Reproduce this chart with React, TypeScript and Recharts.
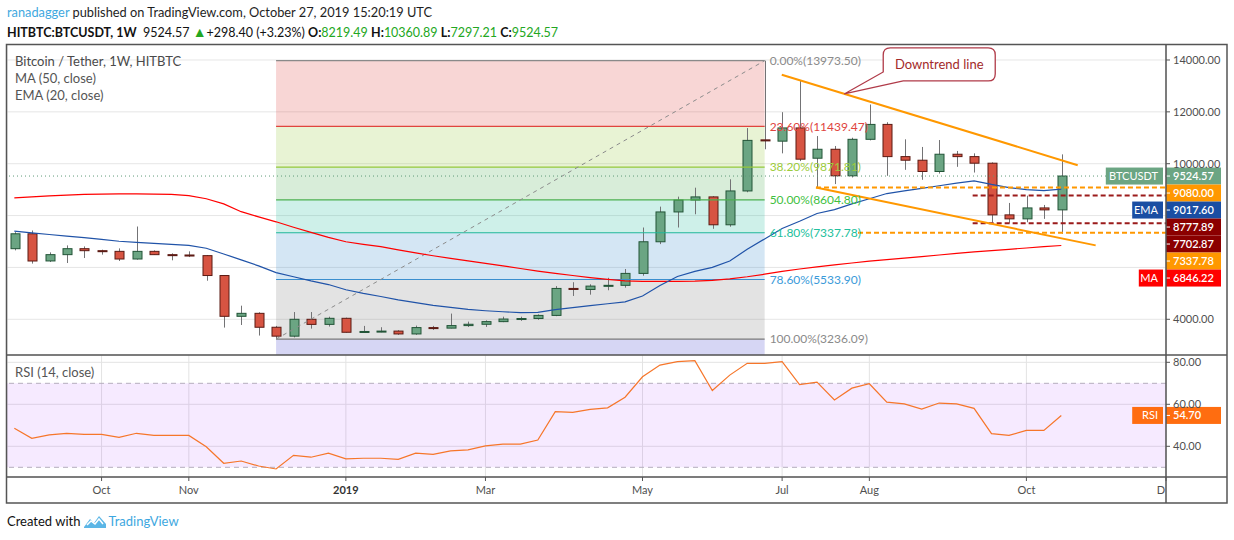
import React from "react";
import {
  ComposedChart,
  Bar,
  Line,
  XAxis,
  YAxis,
  CartesianGrid,
  ReferenceArea,
  ReferenceLine,
  ReferenceDot,
} from "recharts";

const FONT = "Lato, 'Open Sans', sans-serif";

// weekly candles, week of Aug 27 2018 .. week of Oct 21 2019
const opens = [
  6723, 7298, 6250, 6493, 6723, 6646, 6620, 6325, 6620, 6493,
  6480, 6455, 5688, 4115, 4230, 3693, 3350, 4000, 3804, 4038,
  3500, 3530, 3545, 3435, 3680, 3660, 3757, 3808, 3910, 4010,
  4030, 4150, 5190, 5150, 5280, 5310, 5770, 6990, 8140, 8600,
  8720, 7645, 8950, 10920, 10870, 11380, 10212, 10557, 9534, 10941,
  11516, 10274, 10135, 9700, 10366, 10274, 10020, 8027, 7873, 8295,
  8219.49,
];
const highs = [
  7360, 7425, 6581, 6850, 6811, 6684, 6735, 7578, 6658, 6543,
  6620, 6480, 5700, 4525, 4270, 3745, 4280, 4280, 4100, 4064,
  3745, 3694, 3580, 3757, 3745, 4220, 3910, 3960, 4100, 4100,
  4190, 5280, 5430, 5350, 5600, 5940, 7540, 8345, 8730, 9075,
  8750, 9400, 11375, 13973.5, 11988, 13229, 11067, 10684, 11003, 12283,
  11600, 10941, 10646, 10914, 10492, 10400, 10050, 8487, 8767, 8410,
  10360.89,
];
const lows = [
  6658, 6148, 6209, 6171, 6363, 6493, 6248, 6300, 6480, 6275,
  6400, 5488, 3680, 3780, 3373, 3236.09, 3300, 3640, 3720, 3485,
  3485, 3500, 3400, 3400, 3590, 3650, 3705, 3705, 3890, 3940,
  3980, 4120, 4900, 4950, 5120, 5220, 5680, 6900, 7540, 8050,
  7490, 7570, 8900, 10557, 10400, 10100, 9085, 9215, 9470, 10900,
  9534, 9764, 9380, 9620, 9880, 9660, 7743, 7720, 7743, 7873,
  7297.21,
];
const closes = [
  7298, 6248, 6493, 6723, 6646, 6608, 6325, 6620, 6493, 6480,
  6440, 5688, 4115, 4230, 3693, 3350, 4000, 3804, 4038, 3500,
  3530, 3545, 3435, 3680, 3660, 3757, 3808, 3910, 4010, 4030,
  4150, 5190, 5150, 5280, 5310, 5770, 6990, 8140, 8600, 8720,
  7645, 8950, 10900, 10880, 11380, 10175, 10557, 9534, 10941, 11516,
  10274, 10135, 9700, 10366, 10274, 10020, 8027, 7873, 8295, 8219.49,
  9524.57,
];
const ma50 = [
  8680, 8720, 8760, 8790, 8820, 8830, 8835, 8835, 8830, 8815,
  8770, 8650, 8450, 8150, 7950, 7760, 7550, 7350, 7160, 6990,
  6890, 6800, 6680, 6560, 6450, 6350, 6250, 6160, 6060, 5960,
  5860, 5770, 5690, 5610, 5540, 5480, 5460, 5460, 5460, 5470,
  5500, 5560, 5640, 5740, 5850, 5940, 6020, 6100, 6170, 6240,
  6300, 6360, 6420, 6480, 6540, 6600, 6650, 6700, 6750, 6800,
  6846.22,
];
const ema20 = [
  7400, 7330, 7270, 7210, 7150, 7080, 7010, 6970, 6930, 6890,
  6850, 6740, 6520, 6290, 6060, 5800, 5640, 5480, 5340, 5140,
  5000, 4880, 4750, 4640, 4540, 4460, 4380, 4330, 4290, 4260,
  4270, 4370, 4450, 4530, 4600, 4670, 4900, 5300, 5650, 5850,
  6000, 6250, 6700, 7100, 7500, 7780, 8080, 8230, 8450, 8650,
  8850, 8950, 9050, 9150, 9250, 9340, 9200, 9080, 9000, 8960,
  9017.6,
];
const rsi14 = [
  48.6, 43.8, 45.4, 46.2, 45.7, 45.7, 44.3, 46.2, 45.2, 45.2,
  45.2, 39.8, 31.9, 33.0, 30.6, 29.2, 35.7, 34.8, 36.7, 34.0,
  34.3, 34.3, 33.8, 36.7, 36.2, 37.8, 38.3, 40.2, 41.0, 41.0,
  43.0, 56.5, 56.2, 57.6, 58.3, 63.4, 73.1, 78.7, 80.3, 80.8,
  66.6, 73.9, 79.5, 79.5, 80.3, 69.4, 70.6, 62.1, 67.7, 69.8,
  61.0, 60.2, 57.7, 60.6, 60.2, 58.1, 46.0, 45.2, 47.6, 47.6,
  54.7,
];

// time axis: bar index of the first week of each month shown
const monthTicks = [5, 10, 19, 27, 36, 44, 49, 58, 66];
const monthNames = ["Oct", "Nov", "2019", "Mar", "May", "Jul", "Aug", "Oct", "D"];

const priceTicks = [4000, 6000, 8000, 10000, 12000, 14000];
const coveredPriceTicks = [6000, 8000];
const rsiTicks = [40, 60, 80];

// fibonacci retracement drawn from the Dec 2018 low to the Jun 2019 high
const fibHigh = 13973.5;
const fibLow = 3236.09;
const fibFrom = 15;
const fibTo = 43;
const fibRatios = [0, 0.236, 0.382, 0.5, 0.618, 0.786, 1];

// descending channel
const channelUpper = [
  { x: 43.98, y: 13433 },
  { x: 60.94, y: 9944 },
];
const channelLower = [
  { x: 45.94, y: 9080 },
  { x: 61.97, y: 6850 },
];
const orangeLevels = [9080, 7337.78];
const orangeFrom = [45.94, 48.35];
const redLevels = [8777.89, 7702.87];
const redFrom = 54.92;
const calloutAt = { x: 47.56, y: 12690 };

const tagValues = [9524.57, 9080, 9017.6, 8777.89, 7702.87, 7337.78, 6846.22];
const tagNames = ["BTCUSDT", "", "EMA", "", "", "", "MA"];
const lastRsi = 54.7;

const X_MIN = -0.42;
const X_MAX = 66;
const P_MIN = 2623;
const P_MAX = 14617;
const MAIN_H = 311;
const R_MIN = 25.38;
const R_MAX = 83.48;

const fibLine = ["#8a8a8a", "#e0443e", "#95c83a", "#4caf50", "#1fb99a", "#3a8fcf", "#7a7a7a"];
const fibText = ["#8a8a8a", "#e0443e", "#9ccc3c", "#3fbf3f", "#22c09c", "#3a9ad9", "#8a8a8a"];
const fibZone = ["#e0443e", "#95c83a", "#4caf50", "#1fb99a", "#3a8fcf", "#808080"];
const tagColors = ["#6ba583", "#ff9800", "#1a4ea3", "#8b0000", "#8b0000", "#ff9800", "#ff0000"];

const candles = opens.map((o, i) => ({
  i,
  o,
  h: highs[i],
  l: lows[i],
  c: closes[i],
  range: [lows[i], highs[i]],
  ma: ma50[i],
  ema: ema20[i],
  rsi: rsi14[i],
}));

const fibLevels = fibRatios.map((r) => fibHigh - r * (fibHigh - fibLow));

// push price tags down so they do not overlap (17px high)
const tagStep = (17 * (P_MAX - P_MIN)) / MAIN_H;
const tagShown: number[] = [];
tagValues.forEach((v, k) => {
  tagShown.push(k === 0 ? v : Math.min(v, tagShown[k - 1] - tagStep));
});

const Candle = (props: any) => {
  const { x, y, width, height, payload } = props;
  if (!payload) return null;
  const { o, h, l, c } = payload;
  const top = Math.min(y, y + height);
  const span = Math.abs(height);
  const py = (v: number) => top + ((h - v) / (h - l)) * span;
  const up = c >= o;
  const cx = Math.round(x + width / 2) + 0.5;
  const bTop = py(Math.max(o, c));
  const bBot = py(Math.min(o, c));
  return (
    <g>
      <line x1={cx} x2={cx} y1={top} y2={top + span} stroke="#737375" strokeWidth={1} />
      <rect
        x={cx - width / 2 + 0.5}
        y={bTop}
        width={width - 1}
        height={Math.max(bBot - bTop, 1)}
        fill={up ? "#6ba583" : "#d75442"}
        stroke={up ? "#225437" : "#5b1a13"}
        strokeWidth={1}
      />
    </g>
  );
};

const PriceTick = (props: any) => {
  const { x, y, payload } = props;
  if (coveredPriceTicks.includes(payload.value)) return <g />;
  return (
    <text x={x + 1} y={y} dy="0.35em" fontSize={11} fill="#4f4f4f" fontFamily={FONT}>
      {payload.value.toFixed(2)}
    </text>
  );
};

const RsiTick = (props: any) => {
  const { x, y, payload } = props;
  return (
    <text x={x + 1} y={y} dy="0.35em" fontSize={11} fill="#4f4f4f" fontFamily={FONT}>
      {payload.value.toFixed(2)}
    </text>
  );
};

const TimeTick = (props: any) => {
  const { x, y, payload } = props;
  const k = monthTicks.indexOf(payload.value);
  const label = monthNames[k];
  const last = k === monthTicks.length - 1;
  return (
    <text
      x={last ? x - 1 : x}
      y={y + 3}
      dy="0.71em"
      textAnchor={last ? "end" : "middle"}
      fontSize={11}
      fontWeight={label === "2019" ? 700 : 400}
      fill={label === "2019" ? "#333" : "#4f4f4f"}
      fontFamily={FONT}
    >
      {label}
    </text>
  );
};

const makeTag = (value: number, name: string, color: string) => (p: any) => {
  const { cx, cy } = p;
  const nameW = name.length * 6.6 + 11;
  return (
    <g fontFamily={FONT} fontSize={11}>
      {name && (
        <>
          <rect x={cx - 3 - nameW} y={cy - 8.5} width={nameW} height={17} fill={color} />
          <text x={cx - 8} y={cy} dy="0.35em" textAnchor="end" fill="#fff">
            {name}
          </text>
        </>
      )}
      <rect x={cx} y={cy - 8.5} width={55} height={17} fill={color} />
      <line x1={cx} x2={cx + 4} y1={cy} y2={cy} stroke="#fff" />
      <text x={cx + 7} y={cy} dy="0.35em" fill="#fff" fontWeight={600}>
        {value.toFixed(2)}
      </text>
    </g>
  );
};

const fibLabel = (k: number) => (p: any) => {
  const pct = (fibRatios[k] * 100).toFixed(2);
  return (
    <text x={p.cx + 5} y={p.cy} dy="0.35em" fontSize={12} fill={fibText[k]} fontFamily={FONT}>
      {`${pct}%(${fibLevels[k].toFixed(2)})`}
    </text>
  );
};

const Callout = (p: any) => {
  const { cx, cy } = p;
  const bx = cx + 39;
  const by = cy - 46;
  const bw = 112;
  const bh = 33;
  const r = 7;
  const d = [
    `M${bx + r},${by}`,
    `H${bx + bw - r}`,
    `Q${bx + bw},${by} ${bx + bw},${by + r}`,
    `V${by + bh - r}`,
    `Q${bx + bw},${by + bh} ${bx + bw - r},${by + bh}`,
    `H${bx + 20}`,
    `L${cx},${cy}`,
    `L${bx},${by + bh - 9}`,
    `V${by + r}`,
    `Q${bx},${by} ${bx + r},${by}`,
    "Z",
  ].join(" ");
  return (
    <g>
      <path d={d} fill="#fff" stroke="#b03a48" strokeWidth={1.3} />
      <text x={bx + bw / 2} y={by + bh / 2} dy="0.35em" textAnchor="middle" fontSize={13} fill="#a32a2a" fontFamily={FONT}>
        Downtrend line
      </text>
    </g>
  );
};

const green = "#22a722";

export default function App() {
  return (
    <div
      style={{
        position: "absolute",
        left: 0,
        top: 0,
        width: 1234,
        height: 540,
        background: "#fff",
        fontFamily: FONT,
        overflow: "hidden",
      }}
    >
      <div style={{ position: "absolute", left: 7, top: 4, fontSize: 12.8, color: "#1e1e1e", whiteSpace: "nowrap" }}>
        <span style={{ color: "#3fa9e0" }}>ranadagger</span> published on TradingView.com, October 27, 2019 15:20:19 UTC
      </div>
      <div style={{ position: "absolute", left: 7, top: 23, fontSize: 12.5, color: "#111", whiteSpace: "nowrap" }}>
        <b>HITBTC:BTCUSDT, 1W</b>&nbsp; 9524.57 <span style={{ color: green, fontSize: 14 }}>▲</span>+298.40 (+3.23%){" "}
        <b>O:</b>
        <span style={{ color: green }}>8219.49</span> <b>H:</b>
        <span style={{ color: green }}>10360.89</span> <b>L:</b>
        <span style={{ color: green }}>7297.21</span> <b>C:</b>
        <span style={{ color: green }}>9524.57</span>
      </div>

      <div style={{ position: "absolute", left: 7, top: 44 }}>
        <ComposedChart width={1220} height={MAIN_H} data={candles} margin={{ top: 0, right: 0, bottom: 0, left: 0 }}>
          <CartesianGrid stroke="#e6e6e6" />
          <XAxis
            dataKey="i"
            type="number"
            domain={[X_MIN, X_MAX]}
            ticks={monthTicks}
            interval={0}
            height={0}
            tick={false}
            tickLine={false}
            axisLine={false}
            allowDataOverflow
          />
          <YAxis
            orientation="right"
            width={61}
            type="number"
            domain={[P_MIN, P_MAX]}
            ticks={priceTicks}
            interval={0}
            allowDataOverflow
            axisLine={false}
            tickSize={4}
            tickLine={{ stroke: "#555" }}
            tick={<PriceTick />}
          />
          {fibZone.map((col, k) => (
            <ReferenceArea
              key={`z${k}`}
              x1={fibFrom}
              x2={fibTo}
              y1={fibLevels[k + 1]}
              y2={fibLevels[k]}
              fill={col}
              fillOpacity={0.22}
              stroke="none"
              ifOverflow="hidden"
            />
          ))}
          <ReferenceArea
            x1={fibFrom}
            x2={fibTo}
            y1={P_MIN}
            y2={fibLow}
            fill="#5a5ad2"
            fillOpacity={0.25}
            stroke="none"
            ifOverflow="hidden"
          />
          {fibLevels.map((lv, k) => (
            <ReferenceLine
              key={`f${k}`}
              segment={[
                { x: fibFrom, y: lv },
                { x: fibTo, y: lv },
              ]}
              stroke={fibLine[k]}
              strokeWidth={1.2}
              ifOverflow="visible"
            />
          ))}
          {fibLevels.map((lv, k) => (
            <ReferenceDot key={`fl${k}`} x={fibTo} y={lv} r={0} ifOverflow="visible" shape={fibLabel(k)} />
          ))}
          <ReferenceLine
            segment={[
              { x: fibFrom, y: fibLow },
              { x: fibTo, y: fibHigh },
            ]}
            stroke="#8c8c8c"
            strokeDasharray="4 4"
            ifOverflow="visible"
          />
          <ReferenceLine y={closes[closes.length - 1]} stroke="#5f9a78" strokeDasharray="1 3" />
          <Bar dataKey="range" barSize={10} shape={<Candle />} isAnimationActive={false} />
          <Line dataKey="ma" type="linear" stroke="#ff0000" strokeWidth={1.2} dot={false} isAnimationActive={false} />
          <Line dataKey="ema" type="linear" stroke="#2053a8" strokeWidth={1.2} dot={false} isAnimationActive={false} />
          {orangeLevels.map((lv, k) => (
            <ReferenceLine
              key={`o${k}`}
              segment={[
                { x: orangeFrom[k], y: lv },
                { x: X_MAX, y: lv },
              ]}
              stroke="#ff9800"
              strokeWidth={2}
              strokeDasharray="5 3"
              ifOverflow="visible"
            />
          ))}
          {redLevels.map((lv, k) => (
            <ReferenceLine
              key={`r${k}`}
              segment={[
                { x: redFrom, y: lv },
                { x: X_MAX, y: lv },
              ]}
              stroke="#9b1b1b"
              strokeWidth={2}
              strokeDasharray="5 3"
              ifOverflow="visible"
            />
          ))}
          <ReferenceLine segment={channelUpper} stroke="#ff9800" strokeWidth={2} ifOverflow="visible" />
          <ReferenceLine segment={channelLower} stroke="#ff9800" strokeWidth={2} ifOverflow="visible" />
          <ReferenceDot x={calloutAt.x} y={calloutAt.y} r={0} ifOverflow="visible" shape={Callout} />
          {tagValues.map((v, k) => (
            <ReferenceDot
              key={`t${k}`}
              x={X_MAX}
              y={tagShown[k]}
              r={0}
              ifOverflow="visible"
              shape={makeTag(v, tagNames[k], tagColors[k])}
            />
          ))}
        </ComposedChart>
      </div>

      <div style={{ position: "absolute", left: 7, top: 355 }}>
        <ComposedChart width={1220} height={148} data={candles} margin={{ top: 0, right: 0, bottom: 0, left: 0 }}>
          <CartesianGrid stroke="#e3e3e3" />
          <XAxis
            dataKey="i"
            type="number"
            domain={[X_MIN, X_MAX]}
            ticks={monthTicks}
            interval={0}
            height={26}
            axisLine={false}
            tickSize={4}
            tickLine={{ stroke: "#555" }}
            tick={<TimeTick />}
            allowDataOverflow
          />
          <YAxis
            orientation="right"
            width={61}
            type="number"
            domain={[R_MIN, R_MAX]}
            ticks={rsiTicks}
            interval={0}
            allowDataOverflow
            axisLine={false}
            tickSize={4}
            tickLine={{ stroke: "#555" }}
            tick={<RsiTick />}
          />
          <ReferenceArea y1={30} y2={70} fill="#9915ff" fillOpacity={0.09} stroke="none" />
          <ReferenceLine y={70} stroke="#b5adbd" strokeDasharray="5 4" />
          <ReferenceLine y={30} stroke="#b5adbd" strokeDasharray="5 4" />
          <Line dataKey="rsi" type="linear" stroke="#f6762a" strokeWidth={1.2} dot={false} isAnimationActive={false} />
          <ReferenceDot x={X_MAX} y={lastRsi} r={0} ifOverflow="visible" shape={makeTag(lastRsi, "RSI", "#ff6d10")} />
        </ComposedChart>
      </div>

      <div style={{ position: "absolute", left: 15, top: 53, fontSize: 13, color: "#4a4a4a", lineHeight: "17px" }}>
        <div>Bitcoin / Tether, 1W, HITBTC</div>
        <div style={{ color: "#555" }}>MA (50, close)</div>
        <div style={{ color: "#555" }}>EMA (20, close)</div>
      </div>
      <div style={{ position: "absolute", left: 15, top: 364, fontSize: 13, color: "#555" }}>RSI (14, close)</div>

      <svg width={1234} height={540} style={{ position: "absolute", left: 0, top: 0, pointerEvents: "none" }}>
        <g stroke="#555" strokeWidth={1.5} fill="none">
          <rect x={6.5} y={44.5} width={1220.5} height={458.5} />
          <line x1={6.5} x2={1227} y1={355} y2={355} />
          <line x1={6.5} x2={1227} y1={477} y2={477} />
          <line x1={1166} x2={1166} y1={44.5} y2={503} />
        </g>
      </svg>

      <div style={{ position: "absolute", left: 7, top: 513, fontSize: 13, color: "#111", display: "flex", alignItems: "center" }}>
        <span>Created with</span>
        <svg width={24} height={16} style={{ marginLeft: 3 }}>
          <path d="M1 14 L7 6 L11 10 L16 3 L23 11 L23 15 L1 15 Z" fill="#5bb6e6" />
          <path d="M4 12 L8 8 L12 11 L16 6 L20 11" stroke="#fff" strokeWidth={1.5} fill="none" />
        </svg>
        <span style={{ color: "#3ea7e0", marginLeft: 1 }}>TradingView</span>
      </div>
    </div>
  );
}
